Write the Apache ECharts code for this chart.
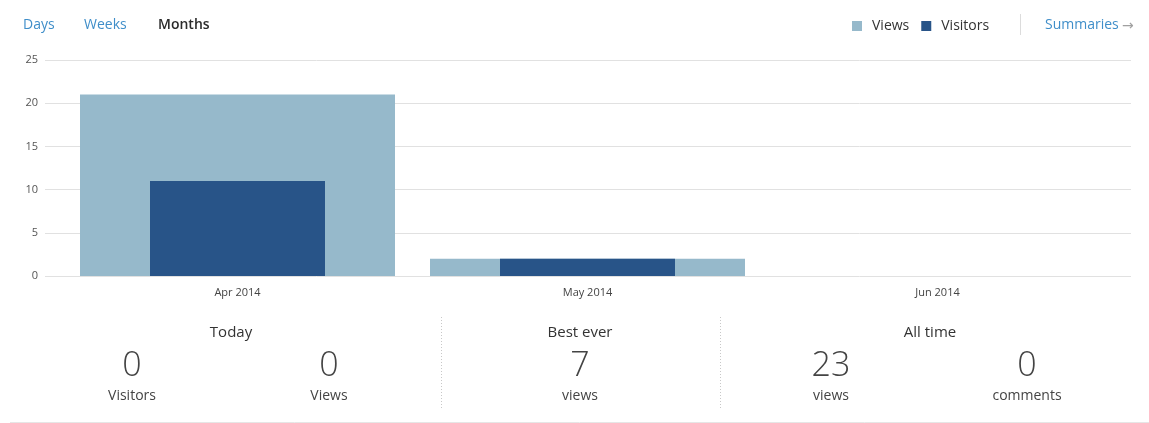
<!DOCTYPE html>
<html><head><meta charset="utf-8">
<script src="https://cdn.jsdelivr.net/npm/echarts@6/dist/echarts.min.js"></script>
<style>html,body{margin:0;padding:0;background:#fff}#c{width:1149px;height:423px}</style>
</head><body><div id="c"></div>
<script>
const categories = ['Apr 2014', 'May 2014', 'Jun 2014'];
const views = [21, 2, 0];
const visitors = [11, 2, 0];
const yTicks = [0, 5, 10, 15, 20, 25];
const periodTabs = ['Days', 'Weeks', 'Months'];
const statGroups = ['Today', 'Best ever', 'All time'];
const statValues = ['0', '0', '7', '23', '0'];
const statLabels = ['Visitors', 'Views', 'views', 'views', 'comments'];

const FONT = '"Open Sans", "Noto Sans", sans-serif';
const chart = echarts.init(document.getElementById('c'));

const g = [];
const tabX = [23, 84, 158];
periodTabs.forEach((t, i) => g.push({type:'text', x: tabX[i], y: 25, style:{text:t, font: (i===2?'600 ':'') + '14px ' + FONT, fill: i===2 ? '#2b2b2b' : '#3f8ec9', verticalAlign:'middle'}}));
g.push({type:'line', shape:{x1:1020.5,y1:14,x2:1020.5,y2:35}, style:{stroke:'#dcdcdc', lineWidth:1}});
g.push({type:'text', x:1045, y:25, style:{text:'Summaries', font:'14px ' + FONT, fill:'#3f8ec9', verticalAlign:'middle'}});
g.push({type:'text', x:1122, y:26, style:{text:'→', font:'14px "DejaVu Sans", sans-serif', fill:'#a0a0a0', verticalAlign:'middle'}});
// stats
const groupX = [231, 580, 930];
statGroups.forEach((t, i) => g.push({type:'text', x: groupX[i], y: 333, style:{text:t, font:'15px ' + FONT, fill:'#333', align:'center', verticalAlign:'middle'}}));
const valX = [132, 329, 580, 831, 1027];
statValues.forEach((v, i) => g.push({type:'text', x: valX[i], y: 366, style:{text:v, font:'300 34px ' + FONT, fill:'#444', align:'center', verticalAlign:'middle'}}));
statLabels.forEach((v, i) => g.push({type:'text', x: valX[i], y: 396, style:{text:v, font:'14px ' + FONT, fill:'#444', align:'center', verticalAlign:'middle'}}));
[441.5, 720.5].forEach(x => g.push({type:'line', shape:{x1:x,y1:317,x2:x,y2:410}, style:{stroke:'#c8c8c8', lineWidth:1, lineDash:[1,2]}}));
g.push({type:'line', shape:{x1:10,y1:422.5,x2:1149,y2:422.5}, style:{stroke:'#e6e6e6', lineWidth:1}});

chart.setOption({
  animation:false,
  textStyle:{fontFamily: FONT},
  legend:{left:847, top:14, icon:'rect', itemWidth:10, itemHeight:10, itemGap:12, padding:5,
    textStyle:{fontSize:14, color:'#333', fontFamily: FONT, padding:[0,0,0,5]}, data:['Views','Visitors']},
  grid:[
    {left:45, right:18, top:60, bottom:147},
    {left:62.5, right:36.5, top:60, bottom:147}
  ],
  xAxis:[
    {type:'category', gridIndex:0, data:categories, show:false},
    {type:'category', gridIndex:1, data:categories, axisLine:{show:false}, axisTick:{show:false},
      axisLabel:{color:'#444', fontSize:11, margin:11, fontFamily: FONT}},
    {type:'category', gridIndex:1, data:categories, show:false}
  ],
  yAxis:[
    {type:'value', gridIndex:0, min:0, max:25, interval:5, axisLine:{show:false}, axisTick:{show:false},
      axisLabel:{color:'#555', fontSize:11, margin:7, fontFamily: FONT, formatter: v => yTicks.includes(v) ? String(v) : ''},
      splitLine:{lineStyle:{color:'#e1e1e1'}}},
    {type:'value', gridIndex:1, min:0, max:25, interval:5, show:false}
  ],
  series:[
    {name:'Views', type:'bar', xAxisIndex:1, yAxisIndex:1, data:views, barWidth:315, itemStyle:{color:'#96b9cb'}},
    {name:'Visitors', type:'bar', xAxisIndex:2, yAxisIndex:1, data:visitors, barWidth:175, itemStyle:{color:'#285488'}}
  ],
  graphic: g
});
</script></body></html>
